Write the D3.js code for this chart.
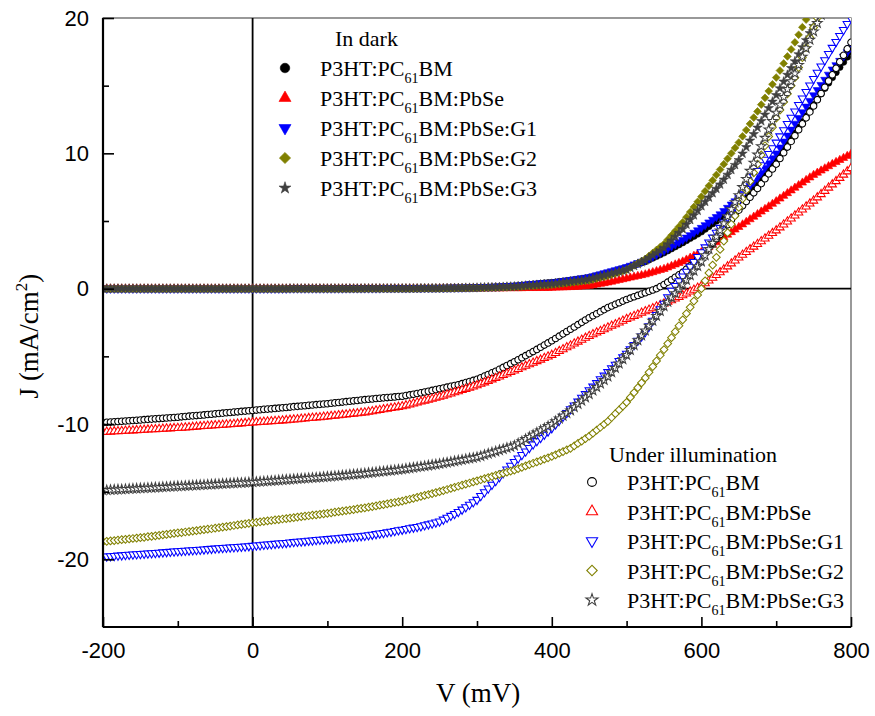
<!DOCTYPE html>
<html><head><meta charset="utf-8">
<script src="https://cdn.jsdelivr.net/npm/d3@7"></script>
<style>body{margin:0;background:#fff}svg{display:block}</style>
</head><body>
<svg id="chart" width="875" height="716"></svg>
<script>
// Voltage sweep (mV): -200 ... 800 in 5 mV steps
const voltages = d3.range(-200, 801, 5);

// ---- Dark J-V (mA/cm^2) ----
const darkBM = [
0,0,0,0,0,0,0,0,0,0,0,0,0,0,0,0,0,0,0,0,
0,0,0,0,0,0,0,0,0,0,0,0,0,0,0,0,0,0,0,0,
0,0,0,0,0,0,0,0,0,0,0.01,0.01,0.01,0.01,0.01,0.01,0.01,0.01,0.01,0.01,
0.01,0.01,0.01,0.01,0.01,0.02,0.02,0.02,0.02,0.02,0.02,0.02,0.02,0.02,0.02,0.03,0.03,0.03,0.03,0.03,
0.03,0.03,0.03,0.03,0.04,0.04,0.04,0.04,0.05,0.05,0.05,0.05,0.06,0.06,0.06,0.07,0.07,0.07,0.08,0.08,
0.08,0.09,0.1,0.11,0.12,0.13,0.14,0.15,0.17,0.18,0.2,0.22,0.24,0.27,0.3,0.32,0.35,0.38,0.41,0.43,
0.45,0.48,0.52,0.55,0.59,0.62,0.66,0.7,0.73,0.78,0.82,0.88,0.95,1.01,1.08,1.15,1.22,1.31,1.39,1.47,
1.55,1.64,1.73,1.82,1.91,2.0,2.13,2.26,2.39,2.52,2.65,2.8,2.95,3.1,3.25,3.4,3.56,3.72,3.88,4.04,
4.2,4.4,4.6,4.8,5.0,5.2,5.44,5.68,5.92,6.16,6.4,6.68,6.96,7.24,7.52,7.8,8.14,8.48,8.82,9.16,
9.5,9.9,10.3,10.7,11.1,11.5,11.92,12.34,12.76,13.18,13.6,14.0,14.4,14.8,15.2,15.6,15.98,16.36,16.74,17.12,
17.5];
const darkPbSe = [
0,0,0,0,0,0,0,0,0,0,0,0,0,0,0,0,0,0,0,0,
0,0,0,0,0,0,0,0,0,0,0,0,0,0,0,0,0,0,0,0,
0,0,0,0,0,0,0,0,0,0,0,0,0,0,0,0,0,0,0,0,
0,0,0,0,0,0,0,0,0,0,0,0,0,0,0,0,0,0,0,0,
0,0,0,0,0,0,0,0,0,0,0.01,0.01,0.01,0.01,0.01,0.01,0.01,0.01,0.01,0.01,
0.01,0.01,0.01,0.02,0.02,0.02,0.02,0.02,0.03,0.03,0.03,0.03,0.03,0.04,0.04,0.04,0.04,0.05,0.05,0.05,
0.06,0.07,0.08,0.09,0.1,0.11,0.12,0.14,0.16,0.18,0.2,0.25,0.3,0.35,0.4,0.45,0.51,0.57,0.63,0.69,
0.75,0.81,0.87,0.93,0.99,1.05,1.13,1.21,1.29,1.37,1.45,1.56,1.67,1.78,1.89,2.0,2.14,2.28,2.42,2.56,
2.7,2.88,3.06,3.24,3.42,3.6,3.79,3.98,4.17,4.36,4.55,4.74,4.93,5.12,5.31,5.5,5.69,5.88,6.07,6.26,
6.45,6.65,6.85,7.05,7.25,7.45,7.64,7.83,8.02,8.21,8.4,8.56,8.72,8.88,9.04,9.2,9.35,9.5,9.65,9.8,
9.95];
const darkG1 = [
0,0,0,0,0,0,0,0,0,0,0,0,0,0,0,0,0,0,0,0,
0,0,0,0,0,0,0,0,0,0,0,0,0,0,0,0,0,0,0,0,
0,0,0,0,0,0,0,0,0,0,0.01,0.01,0.01,0.01,0.01,0.01,0.01,0.01,0.01,0.01,
0.01,0.01,0.01,0.01,0.01,0.02,0.02,0.02,0.02,0.02,0.02,0.02,0.02,0.02,0.02,0.03,0.03,0.03,0.03,0.03,
0.03,0.03,0.03,0.04,0.04,0.04,0.05,0.05,0.05,0.06,0.06,0.06,0.07,0.07,0.08,0.08,0.08,0.09,0.09,0.1,
0.1,0.11,0.12,0.13,0.14,0.15,0.16,0.18,0.19,0.21,0.22,0.24,0.27,0.3,0.33,0.35,0.38,0.4,0.42,0.44,
0.45,0.49,0.53,0.57,0.61,0.65,0.69,0.73,0.77,0.81,0.85,0.92,1.0,1.07,1.15,1.22,1.3,1.37,1.45,1.52,
1.6,1.7,1.8,1.9,2.0,2.1,2.24,2.38,2.52,2.66,2.8,2.96,3.12,3.28,3.44,3.6,3.78,3.96,4.14,4.32,
4.5,4.7,4.9,5.1,5.3,5.5,5.74,5.98,6.22,6.46,6.7,7.0,7.3,7.6,7.9,8.2,8.56,8.92,9.28,9.64,
10.0,10.44,10.88,11.32,11.76,12.2,12.62,13.04,13.46,13.88,14.3,14.68,15.06,15.44,15.82,16.2,16.52,16.84,17.16,17.48,
17.8];
const darkG2 = [
0,0,0,0,0,0,0,0,0,0,0,0,0,0,0,0,0,0,0,0,
0,0,0,0,0,0,0,0,0,0,0,0,0,0,0,0,0,0,0,0,
0,0,0,0,0,0,0,0,0,0,0,0,0,0,0,0,0,0,0,0,
0,0,0,0,0,0,0,0,0,0,0.01,0.01,0.01,0.01,0.01,0.01,0.01,0.01,0.01,0.01,
0.01,0.01,0.01,0.01,0.01,0.02,0.02,0.02,0.02,0.02,0.02,0.03,0.03,0.03,0.03,0.04,0.04,0.04,0.05,0.05,
0.05,0.06,0.06,0.07,0.08,0.08,0.09,0.1,0.1,0.11,0.12,0.14,0.15,0.17,0.19,0.2,0.22,0.24,0.25,0.27,
0.28,0.31,0.34,0.38,0.41,0.44,0.47,0.5,0.54,0.57,0.6,0.67,0.74,0.81,0.88,0.95,1.04,1.13,1.22,1.31,
1.4,1.56,1.72,1.88,2.04,2.2,2.42,2.64,2.86,3.08,3.3,3.62,3.94,4.26,4.58,4.9,5.28,5.66,6.04,6.42,
6.8,7.2,7.6,8.0,8.4,8.8,9.2,9.6,10.0,10.4,10.8,11.26,11.72,12.18,12.64,13.1,13.6,14.1,14.6,15.1,
15.6,16.12,16.64,17.16,17.68,18.2,18.76,19.32,19.88,20.44,21.0,21.56,22.12,22.68,23.24,23.8,24.34,24.88,25.42,25.96,
26.5];
const darkG3 = [
0,0,0,0,0,0,0,0,0,0,0,0,0,0,0,0,0,0,0,0,
0,0,0,0,0,0,0,0,0,0,0,0,0,0,0,0,0,0,0,0,
0,0,0,0,0,0,0,0,0,0,0.01,0.01,0.01,0.01,0.01,0.01,0.01,0.01,0.01,0.01,
0.01,0.01,0.01,0.01,0.01,0.01,0.01,0.01,0.01,0.01,0.02,0.02,0.02,0.02,0.02,0.02,0.02,0.02,0.02,0.02,
0.02,0.02,0.02,0.02,0.02,0.03,0.03,0.03,0.03,0.03,0.03,0.04,0.04,0.04,0.05,0.05,0.05,0.06,0.06,0.06,
0.07,0.08,0.09,0.1,0.1,0.11,0.12,0.13,0.14,0.15,0.16,0.18,0.2,0.22,0.24,0.26,0.28,0.3,0.31,0.33,
0.35,0.38,0.42,0.45,0.49,0.52,0.56,0.59,0.63,0.66,0.7,0.77,0.84,0.91,0.98,1.05,1.12,1.19,1.26,1.33,
1.4,1.54,1.68,1.82,1.96,2.1,2.28,2.46,2.64,2.82,3.0,3.28,3.56,3.84,4.12,4.4,4.74,5.08,5.42,5.76,
6.1,6.42,6.74,7.06,7.38,7.7,8.06,8.42,8.78,9.14,9.5,9.98,10.46,10.94,11.42,11.9,12.38,12.86,13.34,13.82,
14.3,14.8,15.3,15.8,16.3,16.8,17.32,17.84,18.36,18.88,19.4,19.92,20.44,20.96,21.48,22.0,22.52,23.04,23.56,24.08,
24.6];

// ---- Illuminated J-V (mA/cm^2) ----
const lightBM = [
-9.9,-9.88,-9.86,-9.84,-9.82,-9.8,-9.78,-9.76,-9.74,-9.72,-9.7,-9.68,-9.66,-9.64,-9.62,-9.6,-9.58,-9.56,-9.54,-9.52,
-9.5,-9.47,-9.45,-9.42,-9.4,-9.38,-9.35,-9.33,-9.3,-9.28,-9.25,-9.22,-9.2,-9.17,-9.15,-9.12,-9.1,-9.07,-9.05,-9.02,
-9.0,-8.97,-8.95,-8.92,-8.9,-8.88,-8.85,-8.83,-8.8,-8.78,-8.75,-8.72,-8.7,-8.67,-8.65,-8.62,-8.6,-8.57,-8.55,-8.52,
-8.5,-8.47,-8.44,-8.41,-8.38,-8.35,-8.32,-8.29,-8.26,-8.23,-8.2,-8.17,-8.15,-8.12,-8.1,-8.07,-8.05,-8.02,-8.0,-7.97,
-7.95,-7.9,-7.85,-7.8,-7.75,-7.7,-7.64,-7.58,-7.52,-7.46,-7.4,-7.34,-7.28,-7.22,-7.16,-7.1,-7.02,-6.94,-6.86,-6.78,
-6.7,-6.58,-6.46,-6.34,-6.22,-6.1,-5.96,-5.82,-5.68,-5.54,-5.4,-5.25,-5.1,-4.95,-4.8,-4.65,-4.49,-4.33,-4.17,-4.01,
-3.85,-3.68,-3.51,-3.34,-3.17,-3.0,-2.83,-2.66,-2.49,-2.32,-2.15,-2.0,-1.85,-1.7,-1.55,-1.4,-1.28,-1.16,-1.04,-0.92,
-0.8,-0.7,-0.6,-0.5,-0.4,-0.3,-0.2,-0.1,0.0,0.15,0.3,0.48,0.66,0.84,1.02,1.2,1.44,1.68,1.92,2.16,
2.4,2.72,3.04,3.36,3.68,4.0,4.36,4.72,5.08,5.44,5.8,6.12,6.44,6.76,7.08,7.4,7.76,8.12,8.48,8.84,
9.2,9.62,10.04,10.46,10.88,11.3,11.74,12.18,12.62,13.06,13.5,13.96,14.42,14.88,15.34,15.8,16.28,16.76,17.24,17.72,
18.2];
const lightPbSe = [
-10.6,-10.58,-10.57,-10.55,-10.54,-10.52,-10.51,-10.49,-10.48,-10.46,-10.45,-10.43,-10.42,-10.4,-10.39,-10.37,-10.36,-10.34,-10.33,-10.31,
-10.3,-10.28,-10.26,-10.24,-10.22,-10.2,-10.18,-10.16,-10.14,-10.12,-10.1,-10.08,-10.06,-10.04,-10.02,-10.0,-9.98,-9.96,-9.94,-9.92,
-9.9,-9.88,-9.86,-9.84,-9.82,-9.8,-9.78,-9.76,-9.74,-9.72,-9.7,-9.67,-9.65,-9.62,-9.6,-9.57,-9.55,-9.52,-9.5,-9.47,
-9.45,-9.42,-9.39,-9.36,-9.33,-9.3,-9.27,-9.24,-9.21,-9.18,-9.15,-9.1,-9.06,-9.01,-8.97,-8.92,-8.88,-8.83,-8.79,-8.74,
-8.7,-8.63,-8.56,-8.49,-8.42,-8.35,-8.28,-8.21,-8.14,-8.07,-8.0,-7.92,-7.83,-7.75,-7.66,-7.58,-7.49,-7.41,-7.32,-7.24,
-7.15,-7.04,-6.93,-6.82,-6.71,-6.6,-6.49,-6.38,-6.27,-6.16,-6.05,-5.94,-5.82,-5.71,-5.59,-5.48,-5.36,-5.25,-5.13,-5.02,
-4.9,-4.76,-4.62,-4.48,-4.34,-4.2,-4.06,-3.92,-3.78,-3.64,-3.5,-3.38,-3.25,-3.13,-3.0,-2.88,-2.75,-2.63,-2.5,-2.38,
-2.25,-2.14,-2.02,-1.91,-1.79,-1.68,-1.56,-1.45,-1.33,-1.22,-1.1,-0.98,-0.86,-0.74,-0.62,-0.5,-0.36,-0.22,-0.08,0.06,
0.2,0.4,0.6,0.8,1.0,1.2,1.42,1.64,1.86,2.08,2.3,2.5,2.7,2.9,3.1,3.3,3.5,3.7,3.9,4.1,
4.3,4.52,4.74,4.96,5.18,5.4,5.62,5.84,6.06,6.28,6.5,6.74,6.98,7.22,7.46,7.7,7.94,8.18,8.42,8.66,
8.9];
const lightG1 = [
-19.8,-19.78,-19.76,-19.74,-19.72,-19.7,-19.68,-19.66,-19.64,-19.62,-19.6,-19.58,-19.56,-19.54,-19.52,-19.5,-19.48,-19.46,-19.44,-19.42,
-19.4,-19.38,-19.36,-19.34,-19.32,-19.3,-19.28,-19.26,-19.24,-19.22,-19.2,-19.18,-19.16,-19.14,-19.12,-19.1,-19.08,-19.06,-19.04,-19.02,
-19.0,-18.97,-18.95,-18.92,-18.9,-18.88,-18.85,-18.83,-18.8,-18.78,-18.75,-18.72,-18.7,-18.67,-18.65,-18.62,-18.6,-18.57,-18.55,-18.52,
-18.5,-18.48,-18.45,-18.43,-18.4,-18.38,-18.35,-18.33,-18.3,-18.28,-18.25,-18.21,-18.17,-18.13,-18.09,-18.05,-18.0,-17.95,-17.9,-17.85,
-17.8,-17.75,-17.7,-17.65,-17.6,-17.55,-17.48,-17.41,-17.34,-17.27,-17.2,-17.06,-16.92,-16.78,-16.64,-16.5,-16.32,-16.14,-15.96,-15.78,
-15.6,-15.32,-15.04,-14.76,-14.48,-14.2,-13.92,-13.64,-13.36,-13.08,-12.8,-12.54,-12.28,-12.02,-11.76,-11.5,-11.26,-11.02,-10.78,-10.54,
-10.3,-10.02,-9.74,-9.46,-9.18,-8.9,-8.62,-8.34,-8.06,-7.78,-7.5,-7.23,-6.96,-6.69,-6.42,-6.15,-5.88,-5.61,-5.34,-5.07,
-4.8,-4.48,-4.16,-3.84,-3.52,-3.2,-2.78,-2.36,-1.94,-1.52,-1.1,-0.62,-0.15,0.2,0.55,0.9,1.26,1.62,1.98,2.34,
2.7,3.06,3.42,3.78,4.14,4.5,4.9,5.3,5.7,6.1,6.5,6.94,7.38,7.82,8.26,8.7,9.12,9.54,9.96,10.38,
10.8,11.26,11.72,12.18,12.64,13.1,13.58,14.06,14.54,15.02,15.5,15.96,16.42,16.88,17.34,17.8,18.24,18.68,19.12,19.56,
20.0];
const lightG2 = [
-18.7,-18.67,-18.64,-18.61,-18.58,-18.55,-18.52,-18.49,-18.46,-18.43,-18.4,-18.37,-18.33,-18.3,-18.26,-18.23,-18.19,-18.16,-18.12,-18.09,
-18.05,-18.02,-17.98,-17.95,-17.91,-17.88,-17.84,-17.81,-17.77,-17.74,-17.7,-17.66,-17.62,-17.58,-17.54,-17.5,-17.46,-17.42,-17.38,-17.34,
-17.3,-17.27,-17.23,-17.2,-17.16,-17.13,-17.09,-17.06,-17.02,-16.99,-16.95,-16.92,-16.88,-16.85,-16.81,-16.78,-16.74,-16.71,-16.67,-16.64,
-16.6,-16.56,-16.52,-16.48,-16.44,-16.4,-16.36,-16.32,-16.28,-16.24,-16.2,-16.15,-16.1,-16.05,-16.0,-15.95,-15.9,-15.85,-15.8,-15.75,
-15.7,-15.63,-15.56,-15.49,-15.42,-15.35,-15.28,-15.21,-15.14,-15.07,-15.0,-14.92,-14.84,-14.76,-14.68,-14.6,-14.52,-14.44,-14.36,-14.28,
-14.2,-14.12,-14.04,-13.96,-13.88,-13.8,-13.72,-13.64,-13.56,-13.48,-13.4,-13.3,-13.2,-13.1,-13.0,-12.9,-12.8,-12.7,-12.6,-12.5,
-12.4,-12.28,-12.16,-12.04,-11.92,-11.8,-11.62,-11.44,-11.26,-11.08,-10.9,-10.68,-10.46,-10.24,-10.02,-9.8,-9.52,-9.24,-8.96,-8.68,
-8.4,-8.04,-7.68,-7.32,-6.96,-6.6,-6.18,-5.76,-5.34,-4.92,-4.5,-4.06,-3.62,-3.18,-2.74,-2.3,-1.84,-1.38,-0.92,-0.46,
0.0,0.58,1.16,1.74,2.32,2.9,3.52,4.14,4.76,5.38,6.0,6.64,7.28,7.92,8.56,9.2,9.88,10.56,11.24,11.92,
12.6,13.2,13.8,14.4,15.0,15.6,16.34,17.08,17.82,18.56,19.3,20.0,20.7,21.4,22.1,22.8,23.5,24.2,24.9,25.6,
26.3];
const lightG3 = [
-14.9,-14.89,-14.87,-14.86,-14.84,-14.83,-14.81,-14.8,-14.78,-14.77,-14.75,-14.74,-14.72,-14.71,-14.69,-14.68,-14.66,-14.65,-14.63,-14.62,
-14.6,-14.59,-14.57,-14.56,-14.54,-14.53,-14.51,-14.5,-14.48,-14.47,-14.45,-14.44,-14.42,-14.41,-14.39,-14.38,-14.36,-14.35,-14.33,-14.32,
-14.3,-14.28,-14.26,-14.24,-14.22,-14.2,-14.18,-14.16,-14.14,-14.12,-14.1,-14.08,-14.06,-14.04,-14.02,-14.0,-13.98,-13.96,-13.94,-13.92,
-13.9,-13.88,-13.85,-13.83,-13.8,-13.78,-13.75,-13.73,-13.7,-13.68,-13.65,-13.62,-13.59,-13.56,-13.53,-13.5,-13.47,-13.44,-13.41,-13.38,
-13.35,-13.31,-13.27,-13.23,-13.19,-13.15,-13.11,-13.07,-13.03,-12.99,-12.95,-12.9,-12.85,-12.8,-12.75,-12.7,-12.65,-12.6,-12.55,-12.5,
-12.45,-12.37,-12.28,-12.2,-12.11,-12.03,-11.94,-11.86,-11.77,-11.69,-11.6,-11.44,-11.28,-11.12,-10.96,-10.8,-10.64,-10.48,-10.32,-10.16,
-10.0,-9.8,-9.6,-9.4,-9.2,-9.0,-8.76,-8.52,-8.28,-8.04,-7.8,-7.54,-7.28,-7.02,-6.76,-6.5,-6.18,-5.86,-5.54,-5.22,
-4.9,-4.54,-4.18,-3.82,-3.46,-3.1,-2.74,-2.38,-2.02,-1.66,-1.3,-0.98,-0.66,-0.34,-0.02,0.3,0.64,0.98,1.32,1.66,
2.0,2.46,2.92,3.38,3.84,4.3,4.82,5.34,5.86,6.38,6.9,7.5,8.1,8.7,9.3,9.9,10.52,11.14,11.76,12.38,
13.0,13.58,14.16,14.74,15.32,15.9,16.52,17.14,17.76,18.38,19.0,19.62,20.24,20.86,21.48,22.1,22.72,23.34,23.96,24.58,
25.2];

// ---- Labels / ticks ----
const seriesSuffix = ["BM", "BM:PbSe", "BM:PbSe:G1", "BM:PbSe:G2", "BM:PbSe:G3"];
const seriesColors = ["#000000", "#ff0000", "#0000ff", "#808000", "#404040"];
const seriesShapes = ["circle", "up", "down", "diamond", "star"];
const darkTitle = "In dark";
const lightTitle = "Under illumination";
const xMajorTicks = [-200, 0, 200, 400, 600, 800];
const xMinorTicks = [-100, 100, 300, 500, 700];
const yMajorTicks = [-20, -10, 0, 10, 20];
const yMinorTicks = [-15, -5, 5, 15];

const darkSeries = [darkBM, darkPbSe, darkG1, darkG2, darkG3];
const lightSeries = [lightBM, lightPbSe, lightG1, lightG2, lightG3];
[...darkSeries, ...lightSeries].forEach((s, i) => { if (s.length !== voltages.length) console.error("series " + i + " length " + s.length); });

// ---- Layout ----
const svg = d3.select("#chart");
const L = 103, R = 851, T = 18, B = 627;
const x = d3.scaleLinear().domain([-200, 800]).range([L, R]);
const y = d3.scaleLinear().domain([-25, 20]).range([B, T]);
const serif = "'Liberation Serif','Times New Roman',serif";
const sans = "'Liberation Sans',Arial,sans-serif";
const fmt = d => String(d);

svg.append("defs").append("clipPath").attr("id", "clip")
  .append("rect").attr("x", L).attr("y", T).attr("width", R - L).attr("height", B - T);

// frame (top/right)
svg.append("rect").attr("x", L).attr("y", T).attr("width", R - L).attr("height", B - T)
  .attr("fill", "none").attr("stroke", "#555").attr("stroke-width", 1.2);

// zero lines
svg.append("line").attr("x1", L).attr("x2", R).attr("y1", y(0)).attr("y2", y(0))
  .attr("stroke", "#000").attr("stroke-width", 1.6);
svg.append("line").attr("x1", x(0)).attr("x2", x(0)).attr("y1", T).attr("y2", B)
  .attr("stroke", "#000").attr("stroke-width", 1.8);

// symbols
function symPath(shape, scale) {
  const sz = { circle: 34, up: 30, down: 30, diamond: 30, star: 28 }[shape] * scale;
  const type = { circle: d3.symbolCircle, up: d3.symbolTriangle, down: d3.symbolTriangle, diamond: d3.symbolSquare, star: d3.symbolStar }[shape];
  return d3.symbol().type(type).size(sz)();
}
function symRot(shape) { return shape === "down" ? 180 : shape === "diamond" ? 45 : 0; }

const plot = svg.append("g").attr("clip-path", "url(#clip)");
function drawSeries(vals, idx, filled) {
  const shape = seriesShapes[idx], col = seriesColors[idx];
  const pts = voltages.map((v, i) => ({ v, j: vals[i] })).filter(d => d.j !== undefined);
  plot.append("g").selectAll("path").data(pts).join("path")
    .attr("d", symPath(shape, 1))
    .attr("transform", d => `translate(${x(d.v)},${y(d.j)}) rotate(${symRot(shape)})`)
    .attr("fill", filled ? col : "#fff")
    .attr("stroke", col)
    .attr("stroke-width", filled ? 0.6 : 1.05);
}
darkSeries.forEach((s, i) => drawSeries(s, i, true));
lightSeries.forEach((s, i) => drawSeries(s, i, false));

// axes
const ax = svg.append("g").attr("transform", `translate(0,${B})`)
  .call(d3.axisBottom(x).tickValues(xMajorTicks).tickSize(-10).tickSizeOuter(0).tickPadding(15).tickFormat(fmt));
svg.append("g").attr("transform", `translate(0,${B})`)
  .call(d3.axisBottom(x).tickValues(xMinorTicks).tickSize(-6).tickSizeOuter(0).tickFormat(""))
  .select(".domain").remove();
const ay = svg.append("g").attr("transform", `translate(${L},0)`)
  .call(d3.axisLeft(y).tickValues(yMajorTicks).tickSize(-11).tickSizeOuter(0).tickPadding(14).tickFormat(fmt));
svg.append("g").attr("transform", `translate(${L},0)`)
  .call(d3.axisLeft(y).tickValues(yMinorTicks).tickSize(-6).tickSizeOuter(0).tickFormat(""))
  .select(".domain").remove();
svg.selectAll(".domain").attr("stroke", "#000").attr("stroke-width", 2.2);
svg.selectAll(".tick line").attr("stroke", "#000").attr("stroke-width", 1.6);
svg.selectAll(".tick text").attr("font-family", sans).attr("font-size", 22).attr("fill", "#000");
ay.select(".domain").attr("d", `M0,${T}V${B}`);
ax.select(".domain").attr("d", `M${L},0H${R}`);

// axis titles
svg.append("text").attr("x", 478).attr("y", 702).attr("text-anchor", "middle")
  .attr("font-family", serif).attr("font-size", 27).text("V (mV)");
const yt = svg.append("text").attr("transform", "translate(38,336) rotate(-90)")
  .attr("text-anchor", "middle").attr("font-family", serif).attr("font-size", 27);
yt.append("tspan").text("J (mA/cm");
yt.append("tspan").attr("dy", -11).attr("font-size", 17).text("2");
yt.append("tspan").attr("dy", 11).text(")");

// legends
function legend(title, tx, ty, symX, textX, baselines, filled) {
  svg.append("text").attr("x", tx).attr("y", ty).attr("font-family", serif).attr("font-size", 22).text(title);
  seriesSuffix.forEach((suf, i) => {
    const by = baselines[i];
    const shape = seriesShapes[i], col = seriesColors[i];
    const sc = shape === "star" ? 1.6 : (filled ? 2.1 : 1.8);
    svg.append("path").attr("d", symPath(shape, sc))
      .attr("transform", `translate(${symX},${by - 8}) rotate(${symRot(shape)})`)
      .attr("fill", filled ? col : "#fff").attr("stroke", col).attr("stroke-width", filled ? 0.6 : 1.1);
    const t = svg.append("text").attr("x", textX).attr("y", by).attr("font-family", serif).attr("font-size", 22);
    t.append("tspan").text("P3HT:PC");
    t.append("tspan").attr("dy", 7).attr("font-size", 14).text("61");
    t.append("tspan").attr("dy", -7).text(suf);
  });
}
legend(darkTitle, 335, 46, 285, 320, [76, 106, 136, 166, 196], true);
legend(lightTitle, 609, 462, 592, 627, [490, 519.5, 549, 578.5, 608], false);
</script>
</body></html>
